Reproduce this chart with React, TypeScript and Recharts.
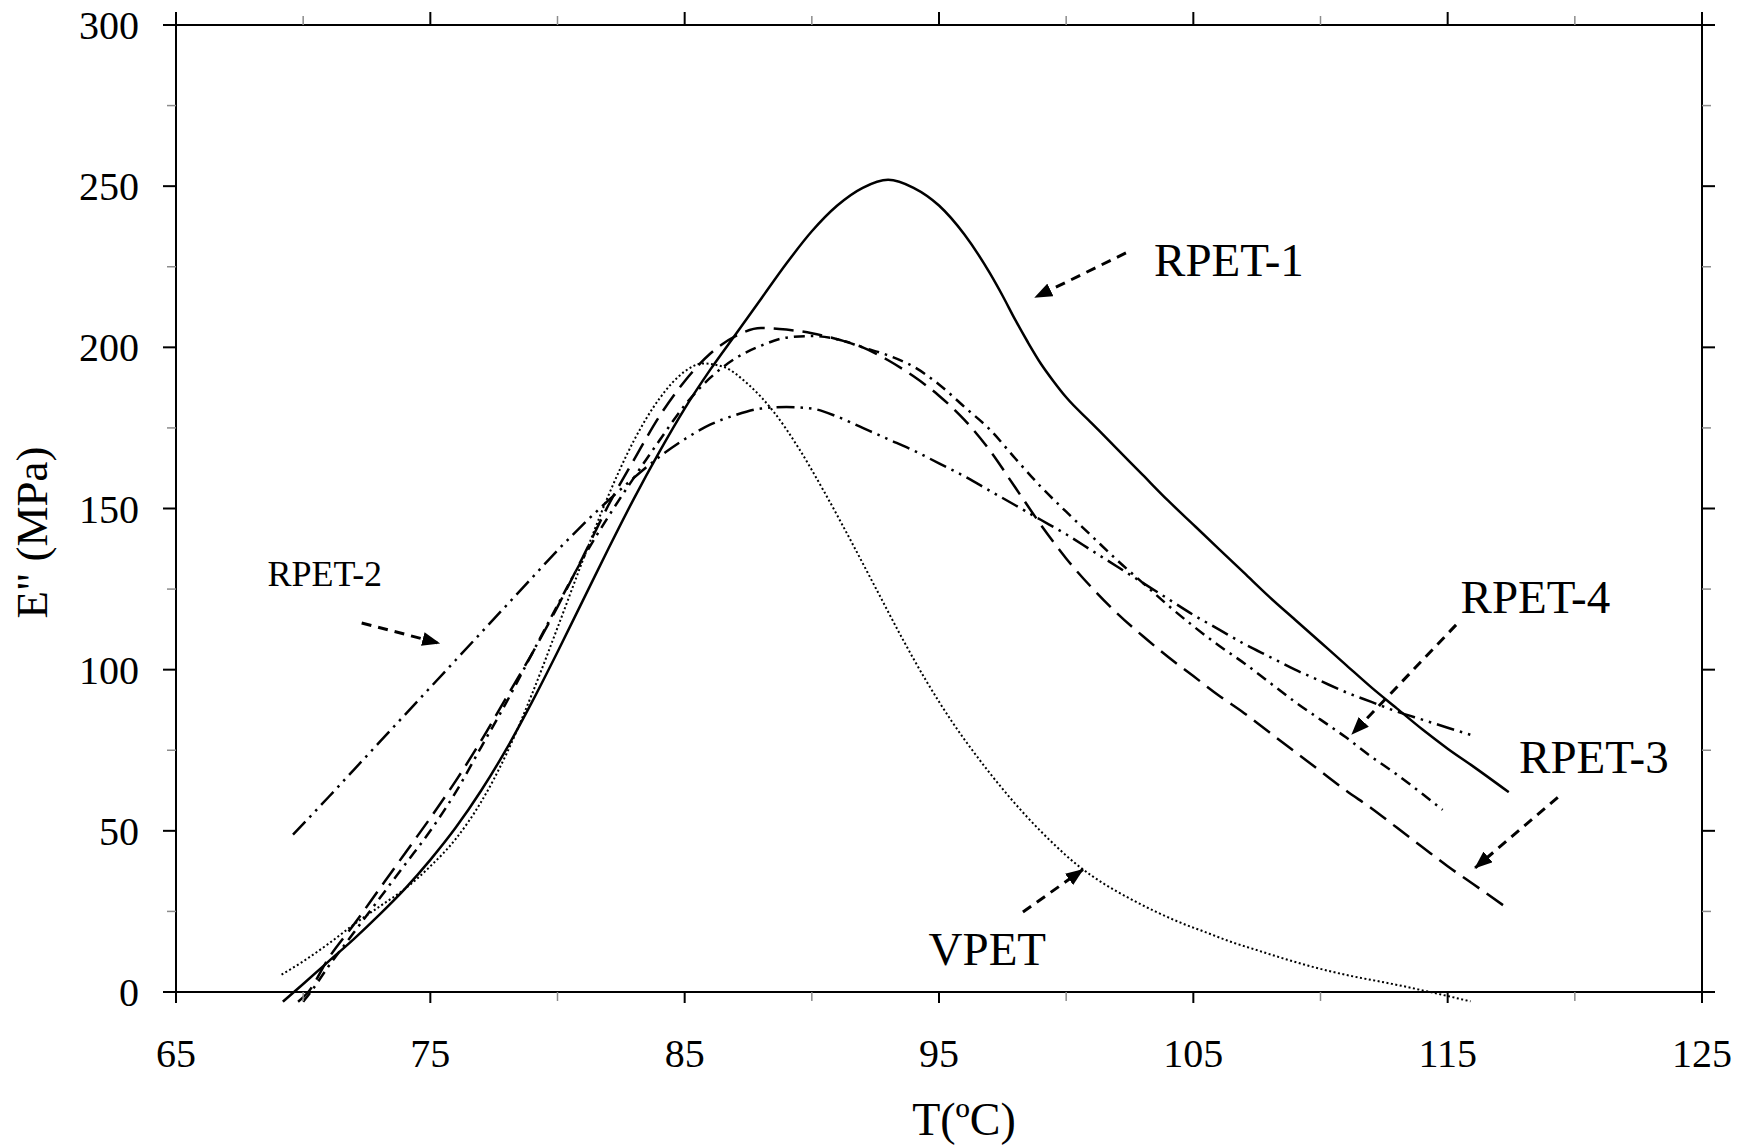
import React from 'react';
import {
  LineChart,
  Line,
  XAxis,
  YAxis,
  ReferenceLine,
  ReferenceDot
} from 'recharts';

// E'' vs temperature
const rpet1 = [
  { t: 69.2, e: -3 }, { t: 70, e: 2.5 }, { t: 71, e: 9.5 }, { t: 72, e: 16.5 }, { t: 73, e: 24 },
  { t: 74, e: 32 }, { t: 75, e: 41 }, { t: 76, e: 51 }, { t: 77, e: 62.5 }, { t: 78, e: 75.5 },
  { t: 79, e: 90 }, { t: 80, e: 105.5 }, { t: 81, e: 121.5 }, { t: 82, e: 137.5 }, { t: 83, e: 153 },
  { t: 84, e: 167.5 }, { t: 85, e: 181 }, { t: 86, e: 193 }, { t: 87, e: 204 }, { t: 88, e: 215 },
  { t: 89, e: 226 }, { t: 90, e: 236 }, { t: 91, e: 244 }, { t: 92, e: 249.5 }, { t: 93, e: 252 },
  { t: 94, e: 249.5 }, { t: 95, e: 244 }, { t: 96, e: 235 }, { t: 97, e: 223 }, { t: 97.5, e: 216 },
  { t: 98, e: 208.5 }, { t: 98.5, e: 201.5 }, { t: 99, e: 195 }, { t: 99.5, e: 189.5 }, { t: 100, e: 184.5 },
  { t: 101, e: 176.5 }, { t: 102, e: 168.5 }, { t: 103, e: 160.5 }, { t: 104, e: 152.5 }, { t: 105, e: 145 },
  { t: 106, e: 137.5 }, { t: 107, e: 130 }, { t: 108, e: 122.5 }, { t: 109, e: 115.5 }, { t: 110, e: 108.5 },
  { t: 111, e: 101.5 }, { t: 112, e: 94.5 }, { t: 113, e: 88 }, { t: 114, e: 81.5 }, { t: 115, e: 75.5 },
  { t: 116, e: 70 }, { t: 117.4, e: 62 }
];

const rpet2 = [
  { t: 69.6, e: 48.8 }, { t: 71, e: 60.5 }, { t: 72, e: 69 }, { t: 73, e: 77.5 }, { t: 74, e: 86 },
  { t: 75, e: 94.5 }, { t: 76, e: 103 }, { t: 77, e: 111.5 }, { t: 78, e: 120 }, { t: 79, e: 128.5 },
  { t: 80, e: 137 }, { t: 81, e: 145 }, { t: 82, e: 152.5 }, { t: 83, e: 159.5 }, { t: 84, e: 166 },
  { t: 85, e: 171.5 }, { t: 86, e: 176 }, { t: 87, e: 179 }, { t: 88, e: 181 }, { t: 89, e: 181.5 },
  { t: 90, e: 181 }, { t: 91, e: 178.5 }, { t: 92, e: 175 }, { t: 93, e: 171.5 }, { t: 94, e: 168 },
  { t: 95, e: 164 }, { t: 96, e: 160 }, { t: 97, e: 155.5 }, { t: 98, e: 151 }, { t: 99, e: 146.5 },
  { t: 100, e: 142 }, { t: 101, e: 137 }, { t: 102, e: 132 }, { t: 103, e: 127 }, { t: 104, e: 122 },
  { t: 105, e: 117 }, { t: 106, e: 112.5 }, { t: 107, e: 108 }, { t: 108, e: 104 }, { t: 109, e: 100 },
  { t: 110, e: 96.5 }, { t: 111, e: 93 }, { t: 112, e: 90 }, { t: 113, e: 87 }, { t: 114, e: 84.5 },
  { t: 115, e: 82 }, { t: 115.9, e: 79.8 }
];

const rpet3 = [
  { t: 69.8, e: -3 }, { t: 70.2, e: 0 }, { t: 71, e: 10.5 }, { t: 72, e: 21 }, { t: 73, e: 32 },
  { t: 74, e: 43 }, { t: 75, e: 54 }, { t: 76, e: 65.5 }, { t: 77, e: 78 }, { t: 78, e: 91.5 },
  { t: 79, e: 105 }, { t: 80, e: 119.5 }, { t: 81, e: 135 }, { t: 82, e: 151 }, { t: 83, e: 165 },
  { t: 84, e: 178.5 }, { t: 85, e: 189.5 }, { t: 86, e: 198 }, { t: 87, e: 203.5 }, { t: 88, e: 206 },
  { t: 89, e: 205.5 }, { t: 90, e: 204.4 }, { t: 91, e: 202.5 }, { t: 92, e: 200 }, { t: 93, e: 196 },
  { t: 94, e: 191 }, { t: 95, e: 185 }, { t: 96, e: 177.5 }, { t: 97, e: 168 }, { t: 98, e: 156.5 },
  { t: 99, e: 145 }, { t: 100, e: 134.5 }, { t: 101, e: 125.5 }, { t: 102, e: 117.5 }, { t: 103, e: 110.5 },
  { t: 104, e: 104 }, { t: 105, e: 98 }, { t: 106, e: 92 }, { t: 107, e: 86.5 }, { t: 108, e: 80.5 },
  { t: 109, e: 74.5 }, { t: 110, e: 68.5 }, { t: 111, e: 62.5 }, { t: 112, e: 57 }, { t: 113, e: 51 },
  { t: 114, e: 45 }, { t: 115, e: 39 }, { t: 116, e: 33.5 }, { t: 117.4, e: 25.7 }
];

const rpet4 = [
  { t: 70, e: -3 }, { t: 70.3, e: 0 }, { t: 71, e: 8 }, { t: 72, e: 18.5 }, { t: 73, e: 29 },
  { t: 74, e: 39.5 }, { t: 75, e: 50 }, { t: 76, e: 62 }, { t: 77, e: 76 }, { t: 78, e: 90 },
  { t: 79, e: 105 }, { t: 80, e: 120 }, { t: 81, e: 134.5 }, { t: 82, e: 147.5 }, { t: 83, e: 159.5 },
  { t: 84, e: 171 }, { t: 85, e: 182 }, { t: 86, e: 190.5 }, { t: 87, e: 196.6 }, { t: 88, e: 200.5 },
  { t: 89, e: 203 }, { t: 90, e: 203.5 }, { t: 91, e: 202.5 }, { t: 92, e: 200 }, { t: 93, e: 197.5 },
  { t: 94, e: 194 }, { t: 95, e: 188.5 }, { t: 96, e: 181.5 }, { t: 97, e: 174.5 }, { t: 98, e: 165.5 },
  { t: 99, e: 156.8 }, { t: 100, e: 149 }, { t: 101, e: 141.5 }, { t: 102, e: 134 }, { t: 103, e: 127 },
  { t: 104, e: 120 }, { t: 105, e: 113.5 }, { t: 106, e: 107.5 }, { t: 107, e: 102 }, { t: 108, e: 96 },
  { t: 109, e: 90 }, { t: 110, e: 84.5 }, { t: 111, e: 79 }, { t: 112, e: 73 }, { t: 113, e: 67.5 },
  { t: 114, e: 61.5 }, { t: 114.8, e: 56.5 }
];

const vpet = [
  { t: 69.15, e: 5.4 }, { t: 70, e: 9.5 }, { t: 71, e: 15 }, { t: 72, e: 21 }, { t: 73, e: 26.5 },
  { t: 74, e: 32 }, { t: 75, e: 39 }, { t: 76, e: 47.5 }, { t: 77, e: 59 }, { t: 78, e: 74 },
  { t: 79, e: 92.5 }, { t: 80, e: 113 }, { t: 81, e: 134 }, { t: 82, e: 154 }, { t: 83, e: 171 },
  { t: 84, e: 184 }, { t: 85, e: 192.5 }, { t: 85.7, e: 195 }, { t: 86.5, e: 194 }, { t: 87.5, e: 188.5 },
  { t: 88.5, e: 180 }, { t: 89.5, e: 168.5 }, { t: 90.5, e: 155 }, { t: 91.5, e: 140.5 }, { t: 92.5, e: 125.5 },
  { t: 93.5, e: 110.5 }, { t: 94.5, e: 96.5 }, { t: 95.5, e: 84 }, { t: 96.5, e: 73 }, { t: 97.5, e: 63 },
  { t: 98.5, e: 54 }, { t: 99.5, e: 46 }, { t: 100.5, e: 39 }, { t: 101.5, e: 33.5 }, { t: 102.5, e: 29 },
  { t: 103.5, e: 25 }, { t: 104.5, e: 21.5 }, { t: 105.5, e: 18.5 }, { t: 106.5, e: 15.5 }, { t: 107.5, e: 13 },
  { t: 108.5, e: 10.5 }, { t: 109.5, e: 8.2 }, { t: 110.5, e: 6.2 }, { t: 111.5, e: 4.5 }, { t: 112.5, e: 3 },
  { t: 113.5, e: 1.4 }, { t: 114.3, e: 0 }, { t: 115.9, e: -2.9 }
];

const xTicks = [65, 70, 75, 80, 85, 90, 95, 100, 105, 110, 115, 120, 125];
const yTicks = [0, 25, 50, 75, 100, 125, 150, 175, 200, 225, 250, 275, 300];

// curve labels and their pointer arrows, in data units
const notes = [
  { text: 'RPET-1', t: 106.4, e: 222 },
  { text: 'RPET-2', t: 70.85, e: 126, small: true },
  { text: 'RPET-4', t: 118.45, e: 117.5 },
  { text: 'RPET-3', t: 120.75, e: 67.9 },
  { text: 'VPET', t: 96.9, e: 8.3 }
];

const arrows = [
  { x1: 102.35, y1: 229.3, x2: 98.78, y2: 215.5 },
  { x1: 72.3, y1: 114.5, x2: 75.35, y2: 108.2 },
  { x1: 115.33, y1: 113.9, x2: 111.24, y2: 80 },
  { x1: 119.33, y1: 60.4, x2: 116.08, y2: 38.5 },
  { x1: 98.3, y1: 24.8, x2: 100.66, y2: 38 }
];

const FONT = '"Liberation Serif", "Times New Roman", serif';

const makeTick = (side: 'bottom' | 'top' | 'left' | 'right') => (props: any) => {
  const { x, y, payload } = props;
  const v = payload.value;
  const major = side === 'bottom' || side === 'top' ? (v - 65) % 10 === 0 : v % 50 === 0;
  const len = major ? (side === 'bottom' ? 11 : 13) : 9;
  const stroke = major ? '#000' : '#8c8c8c';
  const sw = major ? 2 : 1.5;
  let line;
  if (side === 'bottom') line = <line x1={x} y1={y} x2={x} y2={y + len} stroke={stroke} strokeWidth={sw} />;
  else if (side === 'top') line = <line x1={x} y1={y} x2={x} y2={y - len} stroke={stroke} strokeWidth={sw} />;
  else if (side === 'left') line = <line x1={x} y1={y} x2={x - len} y2={y} stroke={stroke} strokeWidth={sw} />;
  else line = <line x1={x} y1={y} x2={x + len} y2={y} stroke={stroke} strokeWidth={sw} />;

  let label = null;
  if (major && side === 'bottom') {
    label = (
      <text x={x} y={y + 75} textAnchor="middle" fontFamily={FONT} fontSize={40} fill="#000">
        {v}
      </text>
    );
  }
  if (major && side === 'left') {
    label = (
      <text x={x - 37} y={y + 14} textAnchor="end" fontFamily={FONT} fontSize={40} fill="#000">
        {v}
      </text>
    );
  }
  return (
    <g>
      {line}
      {label}
    </g>
  );
};

const renderNote = (text: string, small?: boolean) => (p: any) => (
  <text x={p.cx} y={p.cy} textAnchor="middle" fontFamily={FONT} fontSize={small ? 36 : 47} fill="#000">
    {text}
  </text>
);

const renderArrow = (p: any) => (
  <line
    x1={p.x1}
    y1={p.y1}
    x2={p.x2}
    y2={p.y2}
    stroke="#000"
    strokeWidth={3}
    strokeDasharray="10 7"
    markerEnd="url(#arrowhead)"
  />
);

const axisLine = { stroke: '#000', strokeWidth: 2 };

export default function App() {
  return (
    <div style={{ position: 'absolute', left: 0, top: 0, width: 1740, height: 1148, background: '#fff' }}>
      {/* curves dip a little under 0 in the original, so don't clip them */}
      <style>{'.recharts-wrapper [clip-path] { clip-path: none !important; }'}</style>
      <svg width={0} height={0} style={{ position: 'absolute' }}>
        <defs>
          <marker
            id="arrowhead"
            markerWidth={18}
            markerHeight={14}
            refX={17}
            refY={7}
            orient="auto"
            markerUnits="userSpaceOnUse"
          >
            <path d="M0,0 L18,7 L0,14 z" fill="#000" />
          </marker>
        </defs>
      </svg>
      <LineChart width={1740} height={1148} margin={{ top: 0, right: 0, bottom: 0, left: 0 }}>
        <XAxis
          dataKey="t"
          type="number"
          domain={[65, 125]}
          allowDataOverflow
          ticks={xTicks}
          interval={0}
          height={156}
          tickSize={0}
          tickMargin={0}
          tickLine={false}
          axisLine={axisLine}
          tick={makeTick('bottom')}
          label={{
            content: (p: any) => (
              <text
                x={p.viewBox.x + p.viewBox.width / 2 + 25}
                y={p.viewBox.y + 143}
                textAnchor="middle"
                fontFamily={FONT}
                fontSize={46}
                fill="#000"
              >
                T(ºC)
              </text>
            )
          }}
        />
        <XAxis
          xAxisId="top"
          orientation="top"
          dataKey="t"
          type="number"
          domain={[65, 125]}
          allowDataOverflow
          ticks={xTicks}
          interval={0}
          height={25}
          tickSize={0}
          tickMargin={0}
          tickLine={false}
          axisLine={axisLine}
          tick={makeTick('top')}
        />
        <YAxis
          type="number"
          domain={[0, 300]}
          allowDataOverflow
          ticks={yTicks}
          interval={0}
          width={176}
          tickSize={0}
          tickMargin={0}
          tickLine={false}
          axisLine={axisLine}
          tick={makeTick('left')}
          label={{
            content: (p: any) => {
              const cx = 47;
              const cy = p.viewBox.y + p.viewBox.height / 2 + 24;
              return (
                <text
                  x={cx}
                  y={cy}
                  transform={`rotate(-90, ${cx}, ${cy})`}
                  textAnchor="middle"
                  fontFamily={FONT}
                  fontSize={45}
                  fill="#000"
                >
                  E" (MPa)
                </text>
              );
            }
          }}
        />
        <YAxis
          yAxisId="right"
          orientation="right"
          type="number"
          domain={[0, 300]}
          allowDataOverflow
          ticks={yTicks}
          interval={0}
          width={38}
          tickSize={0}
          tickMargin={0}
          tickLine={false}
          axisLine={axisLine}
          tick={makeTick('right')}
        />

        <Line data={vpet} dataKey="e" name="VPET" type="monotone" stroke="#000" strokeWidth={2}
          strokeDasharray="2 2.5" dot={false} activeDot={false} isAnimationActive={false} />
        <Line data={rpet2} dataKey="e" name="RPET-2" type="monotone" stroke="#000" strokeWidth={2.5}
          strokeDasharray="18 6 2.5 6 2.5 6" dot={false} activeDot={false} isAnimationActive={false} />
        <Line data={rpet4} dataKey="e" name="RPET-4" type="monotone" stroke="#000" strokeWidth={2.5}
          strokeDasharray="11 6 2.5 6" dot={false} activeDot={false} isAnimationActive={false} />
        <Line data={rpet3} dataKey="e" name="RPET-3" type="monotone" stroke="#000" strokeWidth={2.5}
          strokeDasharray="20 9" dot={false} activeDot={false} isAnimationActive={false} />
        <Line data={rpet1} dataKey="e" name="RPET-1" type="monotone" stroke="#000" strokeWidth={2.5}
          dot={false} activeDot={false} isAnimationActive={false} />

        {arrows.map((a, i) => (
          <ReferenceLine
            key={`arrow-${i}`}
            segment={[{ x: a.x1, y: a.y1 }, { x: a.x2, y: a.y2 }]}
            ifOverflow="visible"
            shape={renderArrow}
          />
        ))}
        {notes.map((n) => (
          <ReferenceDot
            key={n.text}
            x={n.t}
            y={n.e}
            r={0}
            ifOverflow="visible"
            shape={renderNote(n.text, n.small)}
          />
        ))}
      </LineChart>
    </div>
  );
}
